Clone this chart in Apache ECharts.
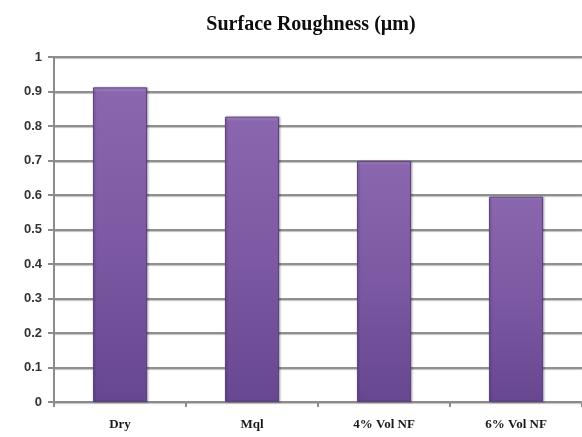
<!DOCTYPE html>
<html>
<head>
<meta charset="utf-8">
<script src="https://cdn.jsdelivr.net/npm/echarts@6/dist/echarts.min.js"></script>
<style>
html,body{margin:0;padding:0;background:#fff;}
#chart{width:582px;height:437px;}
</style>
</head>
<body>
<div id="chart"></div>
<script>
var titleText = 'Surface Roughness (\u00b5m)';
var categories = ['Dry', 'Mql', '4% Vol NF', '6% Vol NF'];
var roughness = [0.912, 0.827, 0.698, 0.595];
var yTicks = [0, 0.1, 0.2, 0.3, 0.4, 0.5, 0.6, 0.7, 0.8, 0.9, 1];

var chart = echarts.init(document.getElementById('chart'));
chart.setOption({
  animation: false,
  backgroundColor: '#ffffff',
  title: {
    text: titleText,
    left: 306, top: 10, textAlign: 'center',
    textStyle: {fontFamily: 'Liberation Serif', fontWeight: 'bold', fontSize: 20, color: '#0d0d0d'}
  },
  grid: {left: 54, right: -8, top: 57, bottom: 35},
  xAxis: {
    type: 'category',
    data: categories,
    axisLine: {lineStyle: {color: '#8c8c8c', width: 2}},
    axisTick: {show: true, length: 5, lineStyle: {color: '#8c8c8c', width: 2}},
    axisLabel: {fontFamily: 'Liberation Serif', fontWeight: 'bold', fontSize: 13, color: '#1a1a1a', margin: 16}
  },
  yAxis: {
    type: 'value', min: 0, max: 1, interval: 0.1,
    axisLine: {show: true, lineStyle: {color: '#8c8c8c', width: 2}},
    axisTick: {show: true, length: 6, lineStyle: {color: '#8c8c8c', width: 2}},
    splitLine: {show: true, lineStyle: {color: '#8f8f8f', width: 2, shadowColor: 'rgba(0,0,0,0.25)', shadowOffsetY: 1, shadowBlur: 1}},
    axisLabel: {
      fontFamily: 'Liberation Sans', fontWeight: 'bold', fontSize: 13, color: '#333', margin: 12,
      formatter: function (v) { return String(Math.round(v * 10) / 10); }
    }
  },
  series: [{
    type: 'bar',
    data: roughness,
    barWidth: '41%',
    itemStyle: {
      color: new echarts.graphic.LinearGradient(0, 0, 0, 1, [
        {offset: 0, color: '#a88bc6'},
        {offset: 0.015, color: '#8a66ae'},
        {offset: 0.5, color: '#7c59a2'},
        {offset: 1, color: '#674790'}
      ]),
      borderColor: '#5e4184', borderWidth: 1,
      shadowColor: 'rgba(0,0,0,0.25)', shadowBlur: 2, shadowOffsetX: 1
    }
  }]
});
</script>
</body>
</html>
